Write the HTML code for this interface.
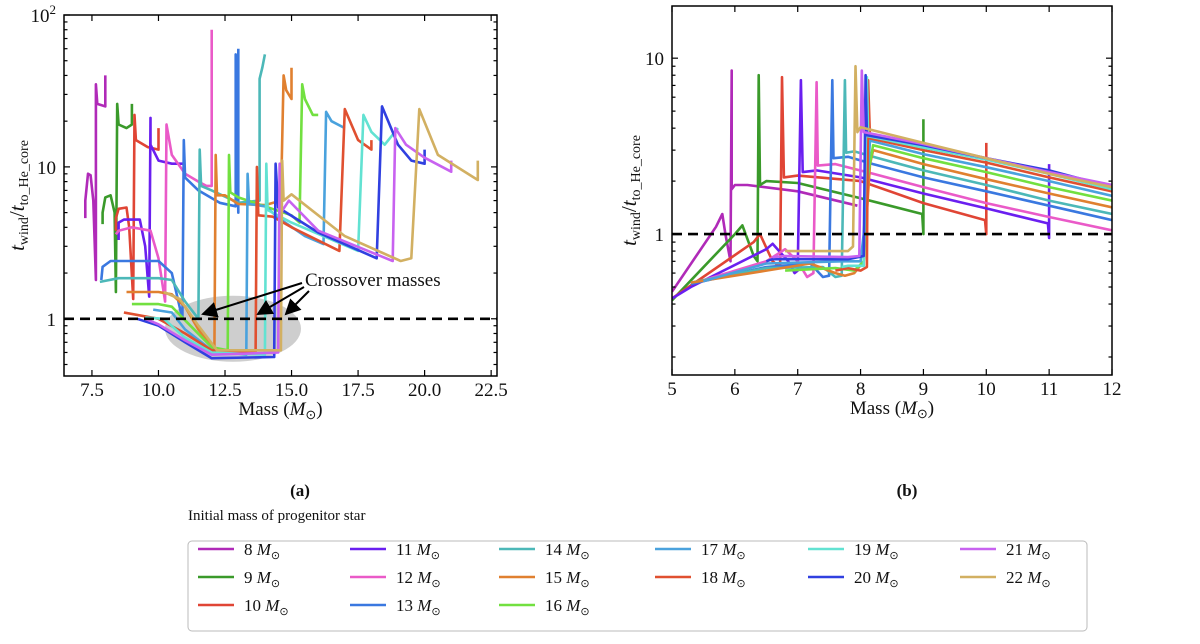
<!DOCTYPE html>
<html><head><meta charset="utf-8">
<style>
body{margin:0;background:#fff;width:1200px;height:639px;overflow:hidden;font-family:"Liberation Serif",serif;}
svg text{font-family:"Liberation Serif",serif;fill:#111;}
</style></head><body>
<svg id="fig" width="1200" height="639" viewBox="0 0 1200 639" xmlns="http://www.w3.org/2000/svg">
<g id="pa"></g>
<g id="pb"></g>
<text x="300" y="496" font-size="17" font-weight="bold" text-anchor="middle">(a)</text>
<text x="907" y="496" font-size="17" font-weight="bold" text-anchor="middle">(b)</text>
<text x="188" y="520" font-size="15">Initial mass of progenitor star</text>
<rect x="188" y="541" width="899" height="90" rx="4" fill="#fff" stroke="#bbb"/>
<g id="legend"></g>
</svg>
<script>
const masses=[8,9,10,11,12,13,14,15,16,17,18,19,20,21,22];
const colors=["#b02ab8","#3a9a2a","#e04535","#6a1ff0","#ea5ac8","#3a78e0","#4cb8b8","#e08030","#72e040","#4aa2dd","#e05030","#62e2d2","#3040e0","#c862f0","#d2b062"];
const seriesA=[
[[8.0,40],[8.0,25],[7.7,26],[7.65,35],[7.65,1.8],[7.55,6],[7.45,8.8],[7.35,9],[7.25,6],[7.25,4.6]],
[[9.0,26],[9.0,19],[8.8,18],[8.5,19],[8.45,26],[8.4,1.5],[8.35,5],[8.2,6.5],[8.0,6.3],[7.9,5],[7.9,4.2]],
[[10.0,18],[10.0,13],[9.6,13.5],[9.15,15],[9.1,22],[9.05,1.35],[8.9,4],[8.8,5.4],[8.5,5.3],[8.4,4.6],[8.4,3.8]],
[[11.0,10.5],[10.5,10.5],[10.0,11],[9.7,14],[9.7,21],[9.65,1.4],[9.5,3],[9.3,4.5],[8.7,4.5],[8.5,4.3],[8.5,3.3]],
[[12.0,80],[12.0,7.5],[11.8,7.5],[11.5,8],[11,9],[10.5,12],[10.3,19],[10.25,1.3],[10.0,2.5],[9.7,3.8],[9.0,4.0],[8.5,3.8],[8.4,3.6]],
[[13.0,60],[13.0,5.0],[12.9,55],[12.9,5.5],[12.3,5.8],[11.5,7],[11.0,8.5],[10.95,15],[10.9,1.0],[10.5,2.0],[10.0,2.4],[8.2,2.4],[7.9,2.2],[7.85,1.8]],
[[14.0,55],[13.9,45],[13.8,38],[13.8,6],[13,5.8],[12,7],[11.6,7.5],[11.55,13],[11.5,1.0],[11.0,1.3],[10.5,1.8],[10.0,1.85],[8.5,1.85],[7.8,1.75]],
[[15.0,45],[15.0,28],[14.8,32],[14.7,40],[14.6,6],[14,5.6],[13,5.7],[12.5,6.5],[12.2,6.5],[12.15,12],[12.1,0.62],[11.5,0.85],[11,1.2],[10.5,1.45],[10,1.5],[8.8,1.5]],
[[16.0,22],[15.8,22],[15.5,28],[15.4,35],[15.3,4.3],[15,4.8],[14,5.5],[13,6.3],[12.7,6.8],[12.65,12],[12.6,0.62],[12,0.65],[11.2,0.9],[10.5,1.2],[10,1.25],[9,1.25]],
[[17,18],[16.5,20],[16.3,23],[16.2,3.1],[15.5,3.5],[14.6,4.5],[14,5.5],[13.4,5.7],[13.35,9],[13.3,0.58],[12,0.62],[11,0.85],[10.5,1.1],[9.8,1.15]],
[[18,15],[18,13],[17.5,15],[17,24],[16.8,2.8],[15,4],[14.3,4.7],[13.75,4.8],[13.7,10],[13.65,0.6],[12,0.62],[11,0.8],[10,1.0],[8.7,1.1]],
[[19,18],[18.5,14],[18,17],[17.7,22],[17.5,2.8],[15,4.3],[14.1,5.2],[14.05,10.5],[14.0,0.58],[12,0.6],[11,0.75],[10.2,1.0],[9.5,1.02]],
[[20,13],[20,10.5],[19.5,11],[19,14],[18.4,25],[18.2,2.5],[16,3.7],[14.5,5.4],[14.4,10.5],[14.35,0.56],[12,0.55],[11,0.7],[10,0.9],[9.2,1.0]],
[[21,11],[21,9.3],[20,11.5],[19.3,14],[18.9,18],[18.8,2.4],[16,3.8],[14.9,6],[14.6,5],[14.55,10.5],[14.5,0.6],[12,0.58],[11,0.72],[10,0.92],[9.5,1.0]],
[[22,11],[22,8.2],[20.5,12],[19.8,24],[19.5,2.5],[19.1,2.4],[17,3.5],[15,6.6],[14.7,6],[14.65,11],[14.6,0.62],[12.2,0.62],[11.5,0.9],[10.8,1.35],[10.2,1.5]]
];
const seriesB=[
[[7.95,1.45],[7.0,1.75],[6.2,1.9],[6.0,1.9],[5.95,1.8],[5.95,8.5],[5.93,0.7],[5.85,1.0],[5.8,1.3],[5.7,1.1],[5.0,0.47]],
[[9.0,4.5],[9.0,1.0],[8.98,1.3],[8.0,1.6],[7.0,1.95],[6.5,2.0],[6.4,1.9],[6.38,8],[6.36,0.7],[6.3,0.75],[6.12,1.12],[6.0,1.0],[5.0,0.42]],
[[10,3.3],[10,1.0],[9.98,1.2],[9,1.5],[8,2.0],[7.0,2.15],[6.78,2.1],[6.75,7.8],[6.72,0.65],[6.6,0.7],[6.4,1.0],[6.3,0.9],[5.0,0.43]],
[[11,2.5],[11,0.95],[10.98,1.15],[10,1.4],[9,1.7],[8,2.1],[7.3,2.3],[7.08,2.25],[7.05,7.5],[7.0,0.62],[6.95,0.6],[6.85,0.7],[6.6,0.88],[6.5,0.82],[5.3,0.5],[5.0,0.43]],
[[12,1.05],[11,1.25],[10,1.5],[9,1.85],[8.2,2.2],[7.6,2.5],[7.32,2.45],[7.3,7.3],[7.25,0.6],[7.15,0.57],[7.0,0.7],[6.8,0.82],[6.5,0.7],[5.3,0.52]],
[[12,1.2],[11,1.45],[10,1.75],[9,2.1],[8.2,2.5],[7.8,2.75],[7.57,2.7],[7.55,7.5],[7.5,0.58],[7.4,0.57],[7.2,0.68],[6.5,0.65],[5.3,0.52]],
[[12,1.3],[11,1.55],[10,1.9],[9,2.3],[8.2,2.75],[7.9,2.95],[7.77,2.9],[7.75,7.5],[7.7,0.58],[7.6,0.57],[7.4,0.65],[6.5,0.64],[5.3,0.53]],
[[12,1.42],[11,1.7],[10,2.05],[9,2.5],[8.2,3.0],[8.15,2.5],[8.05,0.7],[7.9,0.6],[7.75,0.58],[7.6,0.6],[7.2,0.68],[6.5,0.62],[5.3,0.53]],
[[12,1.55],[11,1.85],[10,2.25],[9,2.7],[8.2,3.2],[8.1,2.0],[8.05,0.7],[7.9,0.62],[7.6,0.64],[6.8,0.62]],
[[12,1.65],[11,2.0],[10,2.4],[9,2.85],[8.15,3.4],[8.05,1.0],[8.0,0.7],[7.7,0.7],[6.5,0.68],[5.5,0.54]],
[[12,1.75],[11,2.1],[10,2.55],[9,3.0],[8.15,3.5],[8.12,7.5],[8.1,0.65],[8.0,0.62],[7.8,0.64],[7.6,0.62]],
[[12,1.8],[11,2.2],[10,2.65],[9,3.1],[8.12,3.6],[8.1,7.8],[8.05,0.66],[7.8,0.66],[7.7,0.65]],
[[12,1.85],[11,2.3],[10,2.7],[9,3.2],[8.1,3.65],[8.08,8.0],[8.05,0.75],[7.8,0.72],[6.6,0.72],[6.5,0.7]],
[[12,1.9],[11,2.25],[10,2.7],[9,3.25],[8.05,3.8],[8.02,8.5],[7.98,0.75],[7.8,0.74],[6.8,0.75],[6.6,0.74]],
[[12,1.85],[11,2.2],[10,2.7],[9,3.3],[8.0,4.05],[7.95,3.8],[7.92,9.0],[7.88,0.85],[7.8,0.8],[6.8,0.8]]
];
const xTicksA=[7.5,10,12.5,15,17.5,20,22.5];
const xTickLabelsA=["7.5","10.0","12.5","15.0","17.5","20.0","22.5"];
const xTicksB=[5,6,7,8,9,10,11,12];
const NS="http://www.w3.org/2000/svg";
function mk(tag,attrs,parent){const e=document.createElementNS(NS,tag);for(const k in attrs)e.setAttribute(k,attrs[k]);parent.appendChild(e);return e;}

function panel(g,cfg){
  const sx=v=>cfg.L+(v-cfg.x0)/(cfg.x1-cfg.x0)*(cfg.R-cfg.L);
  const sy=v=>cfg.B-(Math.log10(v)-Math.log10(cfg.y0))/(Math.log10(cfg.y1)-Math.log10(cfg.y0))*(cfg.B-cfg.T);
  const clip="clip"+cfg.id;
  const cp=mk("clipPath",{id:clip},g);mk("rect",{x:cfg.L,y:cfg.T,width:cfg.R-cfg.L,height:cfg.B-cfg.T},cp);
  const lines=mk("g",{"clip-path":"url(#"+clip+")"},g);
  
  
  if(cfg.ellipse){const el=mk("ellipse",{cx:sx(12.8),cy:sy(0.86),rx:68,ry:33,fill:"#bdbdbd","fill-opacity":"0.75"},lines);
    
    }
  cfg.data.forEach((pts,i)=>{
    const p=mk("path",{d:pts.map((q,j)=>(j?"L":"M")+sx(q[0]).toFixed(1)+","+sy(q[1]).toFixed(1)).join(""),fill:"none",stroke:colors[i],"stroke-width":2.6,"stroke-linejoin":"round"},lines);
    
    
  });
  const dl=mk("line",{x1:cfg.L,x2:cfg.R,y1:sy(1),y2:sy(1),stroke:"#000","stroke-width":2.6,"stroke-dasharray":"10,6"},g);
  
  
  const fr=mk("rect",{x:cfg.L,y:cfg.T,width:cfg.R-cfg.L,height:cfg.B-cfg.T,fill:"none",stroke:"#000","stroke-width":1.5},g);
  
  
  for(let d=-2;d<=2;d++){for(let m=1;m<10;m++){const v=m*Math.pow(10,d);if(v<cfg.y0||v>cfg.y1)continue;const y=sy(v);const len=m==1?6:3.5;
    mk("line",{x1:cfg.L,x2:cfg.L+len,y1:y,y2:y,stroke:"#000","stroke-width":1.2},g);
    mk("line",{x1:cfg.R,x2:cfg.R-len,y1:y,y2:y,stroke:"#000","stroke-width":1.2},g);}}
  cfg.yLabels.forEach(([v,t,sup])=>{const tx=mk("text",{x:cfg.L-8,y:sy(v)+7,"font-size":19,"text-anchor":"end"},g);tx.textContent=t;
    
    
    if(sup){const s=mk("tspan",{dy:-8,"font-size":13},tx);s.textContent=sup;}});
  cfg.xt.forEach((v,i)=>{const x=sx(v);
    mk("line",{x1:x,x2:x,y1:cfg.B,y2:cfg.B-6,stroke:"#000","stroke-width":1.2},g);
    mk("line",{x1:x,x2:x,y1:cfg.T,y2:cfg.T+6,stroke:"#000","stroke-width":1.2},g);
    const t=mk("text",{x:x,y:cfg.B+20,"font-size":19,"text-anchor":"middle"},g);t.textContent=cfg.xl[i];
    
    });
  const xl=mk("text",{x:(cfg.L+cfg.R)/2,y:cfg.B+39,"font-size":19,"text-anchor":"middle"},g);
  xl.innerHTML='Mass (<tspan font-style="italic">M</tspan><tspan font-size="13" dy="4">⊙</tspan><tspan dy="-4">)</tspan>';
  
  
  const yl=mk("text",{transform:"translate("+cfg.yx+","+(cfg.T+cfg.B)/2+") rotate(-90)","font-size":21,"text-anchor":"middle"},g);
  yl.innerHTML='<tspan font-style="italic">t</tspan><tspan font-size="14" dy="4">wind</tspan><tspan dy="-4">/</tspan><tspan font-style="italic">t</tspan><tspan font-size="14" dy="4">to_He_core</tspan>';
  
  
  return {sx,sy};
}
panel(document.getElementById("pa"),{id:"a",L:64,R:497,T:15,B:376,x0:6.45,x1:22.72,y0:0.42,y1:100,data:seriesA,xt:xTicksA,xl:xTickLabelsA,yLabels:[[100,"10","2"],[10,"10"],[1,"1"]],yx:24,ellipse:true});
panel(document.getElementById("pb"),{id:"b",L:672,R:1112,T:6,B:375,x0:5,x1:12,y0:0.158,y1:19.8,data:seriesB,xt:xTicksB,xl:xTicksB.map(String),yLabels:[[10,"10"],[1,"1"]],yx:636,ellipse:false});
const pa=document.getElementById("pa");
const at=mk("text",{x:305,y:286,"font-size":19},pa);at.textContent="Crossover masses";


mk("defs",{},pa).innerHTML='<marker id="ah" markerWidth="8" markerHeight="8" refX="7" refY="4" orient="auto"><path d="M0,0L8,4L0,8z" fill="#000"/></marker>';
[[302,283,203,314],[304,287,258,314],[309,291,286,314]].forEach(a=>{const l=mk("line",{x1:a[0],y1:a[1],x2:a[2],y2:a[3],stroke:"#000","stroke-width":2,"marker-end":"url(#ah)"},pa);
  
  });
const lg=document.getElementById("legend");
const colX=[198,350,499,655,808,960];
const layout=[[0,1,2],[3,4,5],[6,7,8],[9,10],[11,12],[13,14]];
layout.forEach((col,c)=>col.forEach((idx,r)=>{
  const y=549+r*28;
  const g=mk("g",{},lg);
  
  
  mk("line",{x1:colX[c],x2:colX[c]+36,y1:y,y2:y,stroke:colors[idx],"stroke-width":2.6},g);
  const t=mk("text",{x:colX[c]+46,y:y+6,"font-size":17},g);
  t.innerHTML=masses[idx]+' <tspan font-style="italic">M</tspan><tspan font-size="11" dy="4">⊙</tspan>';
}));
</script>
</body></html>
